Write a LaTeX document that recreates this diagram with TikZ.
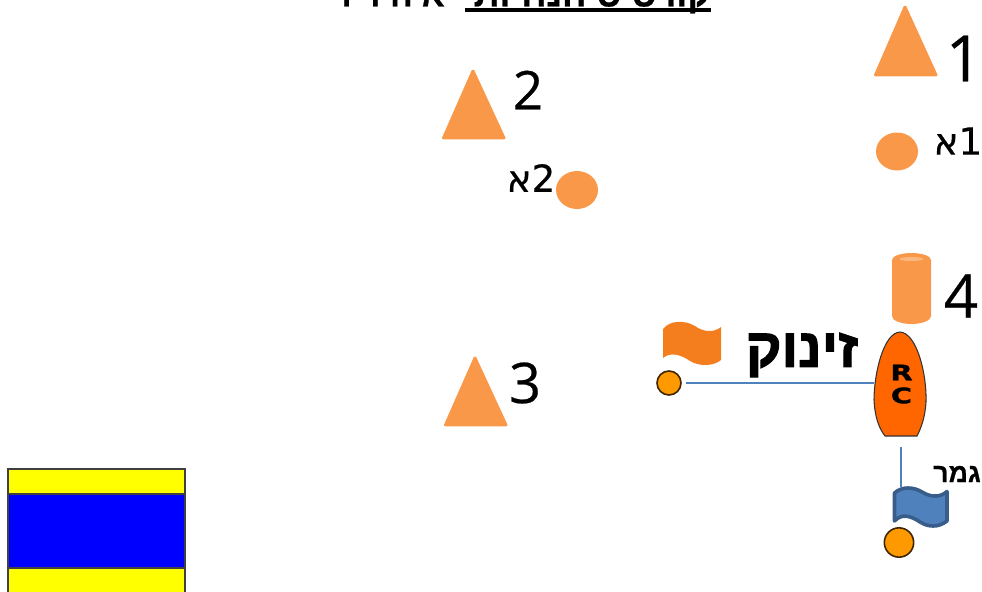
\documentclass[tikz,border=0pt]{standalone}
\usepackage{fontspec}
\usepackage{graphicx}
\setmainfont[FakeBold=0.4]{Open Sans}
\newfontfamily\heb[Script=Hebrew,FakeBold=0.4]{DejaVu Sans}
\newfontfamily\hebb[Script=Hebrew,FakeBold=0.6]{Liberation Sans Bold}
\newfontfamily\hebbb[Script=Hebrew,FakeBold=2]{Liberation Sans Bold}
\newfontfamily\wide[FakeBold=1.5]{DejaVu Sans Bold}
\TeXXeTstate=1
\definecolor{buoyc}{HTML}{F89848}
\definecolor{flagc}{HTML}{F47D1E}
\definecolor{boatc}{HTML}{FF6600}
\definecolor{dotc}{HTML}{FF9900}
\definecolor{lineblue}{HTML}{4F81BD}
\definecolor{flagedge}{HTML}{385D8A}
\definecolor{flagyellow}{HTML}{FFFF00}
\definecolor{flagblue}{HTML}{0000FF}
\usetikzlibrary{shapes.geometric}
\tikzset{
  buoy/.style={fill=buoyc,draw=buoyc,line width=2.2pt,line join=round},
  roundmark/.style={ellipse,fill=buoyc,inner sep=0pt,minimum width=31.5pt,minimum height=28.5pt},
  startdot/.style={circle,fill=dotc,draw=black!75!dotc,line width=1.2pt,inner sep=0pt},
  lbl/.style={inner sep=0pt,text=black},
  link/.style={lineblue,line width=1.1pt},
  dflag/.style={draw=black!75,line width=.9pt}
}
\begin{document}
\begin{tikzpicture}[x=0.75pt,y=-0.75pt]
\useasboundingbox (0,0) rectangle (982,592);
\clip (0,0) rectangle (982,592);
% title, cut by the top edge
\node[lbl,anchor=base east] (title) at (711,6.5) {\hebb\fontsize{27}{27}\selectfont\beginR קורס ס הנחיות\endR};
\node[lbl,anchor=base east] (titleb) at (445,6.5) {\hebb\fontsize{25}{25}\selectfont\beginR א ה ד ד\endR};
\fill (465,8.5) rectangle (711,12.5);
% buoys
\draw[buoy] (905,7) -- (875.5,75) -- (936,75) -- cycle;
\draw[buoy] (473,71) -- (443.5,138) -- (504,138) -- cycle;
\draw[buoy] (475,358) -- (445.5,425) -- (506,425) -- cycle;
\node[roundmark] (m1a) at (897,151.500) {};
\node[roundmark] (m2a) at (577,190) {};
% cylinder
\fill[buoyc] (892,260) -- (892,316) arc[start angle=180,end angle=0,x radius=19.500,y radius=8] -- (931,260) arc[start angle=0,end angle=-180,x radius=19.500,y radius=7] -- cycle;
\fill[buoyc!70!white] (911.5,259) ellipse[x radius=12,y radius=2];
% numbers
\node[lbl] (n1) at (964,58.500) {\fontsize{48}{48}\selectfont 1};
\node[lbl] (n2) at (528,90) {\fontsize{40}{40}\selectfont 2};
\node[lbl] (n3) at (525,383) {\fontsize{42}{42}\selectfont 3};
\node[lbl] (n4) at (961,296) {\fontsize{45}{45}\selectfont 4};
\node[lbl] (l1a) at (958,141) {\heb\fontsize{28}{28}\selectfont\beginR 1א\endR};
\node[lbl] (l2a) at (531,178) {\heb\fontsize{28}{28}\selectfont\beginR 2א\endR};
% start flag and label
\fill[flagc] (663,329) .. controls (670,320) and (685,320) .. (695,326) .. controls (703,332) and (714,333) .. (721,327) -- (721,360) .. controls (714,366) and (700,367) .. (690,361) .. controls (680,354) and (670,352) .. (663,358) -- cycle;
\node[lbl] (start) at (802,355) {\hebbb\fontsize{41}{41}\selectfont\beginR זינוק\endR};
% committee boat
\draw[fill=boatc,draw=black!80,line width=.8pt] (900,332) .. controls (917,333) and (927,375) .. (926,402) .. controls (925,418) and (921,428) .. (917,436) -- (885,436) .. controls (879,428) and (875,418) .. (874,400) .. controls (874,375) and (883,333) .. (900,332) -- cycle;
\node[lbl] (r) at (901.5,372.500) {\wide\fontsize{16}{16}\selectfont\scalebox{1.35}[1]{R}};
\node[lbl] (c) at (901.5,395.500) {\wide\fontsize{16}{16}\selectfont\scalebox{1.35}[1]{C}};
\coordinate (boatw) at (874,383);
\coordinate (boats) at (901,447);
% start line
\node[startdot,minimum size=18pt] (dot1) at (669,383) {};
\draw[link,shorten <=3pt] (dot1.east) -- (boatw);
% finish flag
\coordinate (flagtop) at (901,487);
\draw[link] (boats) -- (flagtop);
\draw[fill=lineblue,draw=flagedge,line width=2.7pt,line join=round] (894.5,493) .. controls (902,486) and (914,487) .. (922,492) .. controls (930,497) and (940,498) .. (947,491.5) -- (947,521) .. controls (938,528) and (928,527) .. (920,522) .. controls (911,516) and (902,513) .. (894.5,521) -- cycle;
\node[lbl] (finish) at (957,474) {\hebb\fontsize{20}{20}\selectfont\beginR גמר\endR};
\node[startdot,minimum size=22pt] (dot2) at (899,542.500) {};
% flag D
\draw[dflag,fill=flagyellow] (8,469) rectangle (185,494);
\draw[dflag,fill=flagblue] (8,494) rectangle (185,568);
\draw[dflag,fill=flagyellow] (8,568) rectangle (185,600);
\end{tikzpicture}
\end{document}
